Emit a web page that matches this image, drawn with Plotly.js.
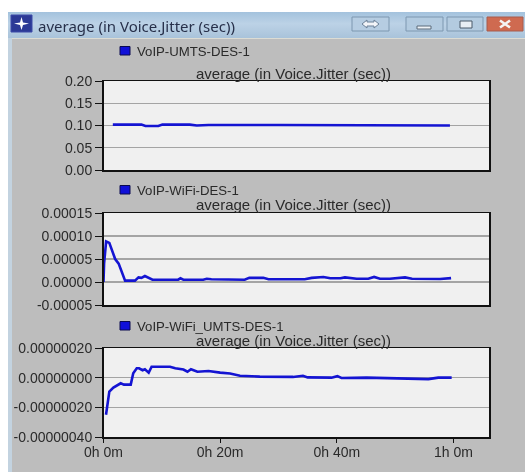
<!DOCTYPE html>
<html>
<head>
<meta charset="utf-8">
<script src="https://cdn.plot.ly/plotly-3.0.1.min.js"></script>
<style>
html,body{margin:0;padding:0;width:525px;height:472px;overflow:hidden;background:#fff}
#bar{position:absolute;left:8px;top:12px;width:517px;height:26px;background:linear-gradient(180deg,#a3c2dd 0%,#bcd2e6 45%,#a9c3da 100%)}
#side{position:absolute;left:8px;top:38px;width:4px;height:434px;background:#c3d3e0}
#win{position:absolute;left:12px;top:38px;width:513px;height:434px;background:#bdbdbd;border-top:1px solid #dcdcd4;box-sizing:border-box}
#chart{position:absolute;left:0;top:0;width:525px;height:472px;filter:blur(0.35px)}
</style>
</head>
<body>
<div id="bar"></div><div id="side"></div><div id="win"></div>
<div id="chart"></div>
<script>
const W = 525, H = 472;
const chartTitle = "average (in Voice.Jitter (sec))";
const seriesNames = ["VoIP-UMTS-DES-1", "VoIP-WiFi-DES-1", "VoIP-WiFi_UMTS-DES-1"];

const umtsMin = [1.6, 6.5, 7.2, 9.4, 10.1, 14.8, 16, 18, 30, 45, 59.4];
const umtsVal = [0.102, 0.102, 0.099, 0.099, 0.102, 0.102, 0.100, 0.101, 0.101, 0.101, 0.100];

const wifiMin = [0, 0.1, 0.45, 1.0, 2.0, 2.6, 3.7, 5.4, 6.0, 6.5, 7.1, 8.4, 12.8, 13.2, 13.7, 17.1, 17.7, 18.5, 24.2, 25, 27.4, 28.3, 34.5, 35.7, 37.7, 38.9, 40.6, 41.4, 43.4, 45.4, 46.4, 47.4, 49.1, 50.3, 51.7, 52.9, 57.7, 59.6];
const wifiVal = [0, 0.00004, 0.000088, 0.000085, 0.00005, 0.00004, 0.000003, 0.000003, 0.000010, 0.000009, 0.000013, 0.000005, 0.000005, 0.000008, 0.000005, 0.000005, 0.000007, 0.000006, 0.000005, 0.000009, 0.000009, 0.000006, 0.000006, 0.000009, 0.000011, 0.000008, 0.000008, 0.000010, 0.000007, 0.000007, 0.000011, 0.000007, 0.000007, 0.000009, 0.000010, 0.000007, 0.0000065, 0.0000085];

const mixMin = [0.43, 1.0, 1.7, 2.95, 3.5, 4.67, 5.1, 5.7, 6.1, 6.7, 7.1, 7.75, 8.25, 11.4, 12.3, 13.7, 14.4, 15, 16.1, 18, 20, 21.7, 23.4, 26.8, 32.5, 34.2, 35, 39.1, 40.1, 40.8, 45.1, 49.7, 55.7, 57.4, 59.7];
const mixVal = [-2.5e-7, -0.94e-7, -0.67e-7, -0.38e-7, -0.47e-7, -0.47e-7, 0.3e-7, 0.63e-7, 0.63e-7, 0.5e-7, 0.57e-7, 0.34e-7, 0.74e-7, 0.74e-7, 0.63e-7, 0.55e-7, 0.4e-7, 0.57e-7, 0.4e-7, 0.45e-7, 0.34e-7, 0.28e-7, 0.13e-7, 0.07e-7, 0.05e-7, 0.13e-7, 0.02e-7, 0, 0.1e-7, -0.02e-7, 0, -0.03e-7, -0.1e-7, 0, 0];

const xTickVals = [0, 20, 40, 60];
const xTickText = ["0h 0m", "0h 20m", "0h 40m", "1h 0m"];
const y1Ticks = [0, 0.05, 0.10, 0.15, 0.20];
const y1Text = ["0.00", "0.05", "0.10", "0.15", "0.20"];
const y2Ticks = [-0.00005, 0, 0.00005, 0.00010, 0.00015];
const y2Text = ["-0.00005", "0.00000", "0.00005", "0.00010", "0.00015"];
const y3Ticks = [-4e-7, -2e-7, 0, 2e-7];
const y3Text = ["-0.00000040", "-0.00000020", "0.00000000", "0.00000020"];

const FONT = "Liberation Sans, Arial, sans-serif";
const TXT = "#2a2a2a";
const px = v => v / W, py = v => 1 - v / H;

const LINE = {color: "#1414d2", width: 2.6};
const traces = [
  {x: umtsMin, y: umtsVal, xaxis: "x", yaxis: "y", mode: "lines", line: LINE, name: seriesNames[0], showlegend: false},
  {x: wifiMin, y: wifiVal, xaxis: "x2", yaxis: "y2", mode: "lines", line: LINE, name: seriesNames[1], showlegend: false},
  {x: mixMin, y: mixVal, xaxis: "x3", yaxis: "y3", mode: "lines", line: LINE, name: seriesNames[2], showlegend: false}
];

function xAxis(anchor, labelled) {
  return {
    domain: [px(103.5), px(489)], range: [0, 66.1], anchor: anchor,
    showgrid: false, zeroline: false, showline: true, linecolor: "#111", linewidth: 1.5, mirror: true,
    tickmode: "array", tickvals: labelled ? xTickVals : [], ticktext: labelled ? xTickText : [],
    ticks: labelled ? "outside" : "", ticklen: 4, tickcolor: "#111", tickwidth: 1, ticklabelstandoff: -2,
    tickfont: {family: FONT, size: 14, color: TXT}
  };
}
function yAxis(anchor, top, bottom, range, vals, text) {
  return {
    domain: [py(bottom), py(top)], range: range, anchor: anchor,
    showgrid: true, gridcolor: "#a4a4a4", gridwidth: 1.4, zeroline: false,
    showline: true, linecolor: "#111", linewidth: 1.5, mirror: true,
    tickmode: "array", tickvals: vals, ticktext: text,
    ticks: "outside", ticklen: 7, tickcolor: "#111", tickwidth: 1,
    tickfont: {family: FONT, size: 14, color: TXT}
  };
}
function note(x, y, text, anchor, size, family, color) {
  return {xref: "paper", yref: "paper", x: px(x), y: py(y), text: text, showarrow: false,
    xanchor: anchor, yanchor: "middle", font: {family: family || FONT, size: size, color: color || TXT}};
}
function rect(x0, y0, x1, y1, fill, stroke) {
  return {type: "rect", xref: "paper", yref: "paper", x0: px(x0), x1: px(x1), y0: py(y1), y1: py(y0),
    fillcolor: fill, line: {color: stroke || fill, width: stroke ? 1 : 0}, layer: "above"};
}

const swatchY = [51, 190, 326];
const titleY = [73, 204.5, 340];

const annotations = [
  note(36, 25.5, chartTitle, "left", 15, "Noto Sans, sans-serif", "#27304a")
];
seriesNames.forEach((s, i) => annotations.push(note(134.5, swatchY[i], s, "left", 13.2)));
titleY.forEach(y => annotations.push(note(293.5, y, chartTitle, "center", 15)));

const shapes = [
  rect(11, 15, 32, 32, "#2c3a96", "#3d4aa8"),
  {type: "path", xref: "paper", yref: "paper", layer: "above", fillcolor: "#ffffff", line: {width: 0},
   path: "M" + [[21.5,17],[23,22.5],[29,23.5],[23,25],[21.5,30],[20,25],[14,23.5],[20,22.5]].map(p => px(p[0]) + "," + py(p[1])).join(" L") + " Z"},
  rect(352, 17, 389, 31, "#b6cde2", "#7c97b0"),
  rect(406, 17, 443, 31, "#b3cbe0", "#7c97b0"),
  rect(447, 17, 483, 31, "#b3cbe0", "#7c97b0"),
  rect(487, 17, 523, 31, "#cf6a50", "#a65a4c"),
  rect(417, 26, 431, 29, "#eef2f6", "#5a6a7a"),
  rect(460, 21, 472, 28, "#e8eef4", "#4a5a6a"),
  {type: "path", xref: "paper", yref: "paper", layer: "above", fillcolor: "#f2f4f8", line: {color: "#6c8198", width: 1},
   path: "M" + [[362,24],[367,20],[367,22],[374,22],[374,20],[379,24],[374,28],[374,26],[367,26],[367,28]].map(p => px(p[0]) + "," + py(p[1])).join(" L") + " Z"},
  {type: "path", xref: "paper", yref: "paper", layer: "above", line: {color: "#f4f4f4", width: 2.6},
   path: "M" + px(500) + "," + py(20.5) + " L" + px(510) + "," + py(27.5) + " M" + px(510) + "," + py(20.5) + " L" + px(500) + "," + py(27.5)}
];
swatchY.forEach(y => shapes.push(rect(120, y - 4.5, 130, y + 4, "#1010d8", "#0a0a50")));

const layout = {
  width: W, height: H, margin: {l: 0, r: 0, t: 0, b: 0},
  paper_bgcolor: "rgba(0,0,0,0)", plot_bgcolor: "#f0f0f0",
  showlegend: false, annotations: annotations, shapes: shapes,
  xaxis: xAxis("y", false),
  xaxis2: xAxis("y2", false),
  xaxis3: xAxis("y3", true),
  yaxis: yAxis("x", 81, 170, [0, 0.20], y1Ticks, y1Text),
  yaxis2: yAxis("x2", 213, 305, [-0.00005, 0.00015], y2Ticks, y2Text),
  yaxis3: yAxis("x3", 348, 437, [-4e-7, 2e-7], y3Ticks, y3Text)
};
Plotly.newPlot("chart", traces, layout, {displayModeBar: false, staticPlot: true});
</script>
</body>
</html>
